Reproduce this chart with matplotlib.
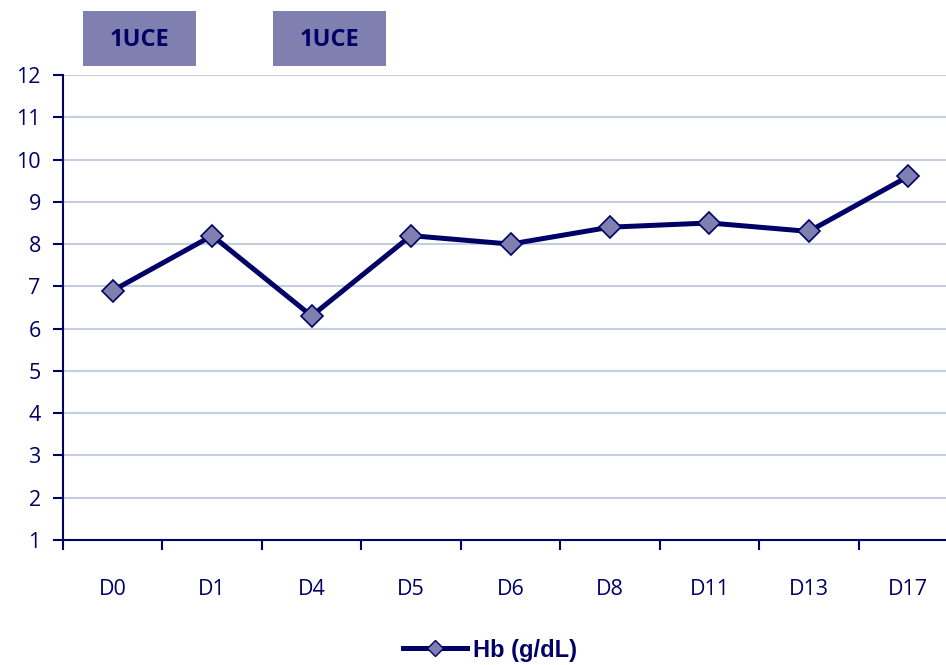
import matplotlib.pyplot as plt
from matplotlib.lines import Line2D

days = ['D0', 'D1', 'D4', 'D5', 'D6', 'D8', 'D11', 'D13', 'D17']
hb = [6.9, 8.2, 6.3, 8.2, 8.0, 8.4, 8.5, 8.3, 9.6]
transfusion_labels = ['1UCE', '1UCE']

navy = '#000066'
lilac = '#8080B0'

fig = plt.figure(figsize=(9.46, 6.65), dpi=100)
ax = fig.add_axes([63 / 946, 125 / 665, 895 / 946, 465 / 665])

x = list(range(len(days)))
ax.plot(x, hb, color=navy, lw=3.6, marker='D', ms=11, mfc=lilac, mec=navy, mew=1.2, zorder=3)

ax.set_ylim(1, 12)
ax.set_yticks(range(1, 13))
ax.set_xlim(-0.5, 8.5)
ax.set_xticks(x)
ax.set_xticklabels(days)
ax.set_xticks([i - 0.5 for i in range(len(days) + 1)], minor=True)

for y in range(2, 13):
    ax.axhline(y, color='#C3CFDF', lw=1.5, zorder=1)

for s in ['top', 'right']:
    ax.spines[s].set_visible(False)
for s in ['left', 'bottom']:
    ax.spines[s].set_color(navy)
    ax.spines[s].set_linewidth(1.5)

ax.tick_params(axis='y', colors=navy, length=7, width=1.5, labelsize=15.5, pad=9)
ax.tick_params(axis='x', which='major', length=0, colors=navy, labelsize=15.5, pad=28)
ax.tick_params(axis='x', which='minor', length=7, width=1.5, color=navy)
for lab in ax.get_xticklabels() + ax.get_yticklabels():
    lab.set_fontfamily('Open Sans')

# transfusion boxes above the plot
for i, xpos in enumerate([83, 273]):
    fig.patches.append(plt.Rectangle((xpos / 946, 1 - 66 / 665), 113 / 946, 55 / 665,
                                     transform=fig.transFigure, facecolor=lilac, edgecolor='none'))
    fig.text((xpos + 56.5) / 946, 1 - 40 / 665, transfusion_labels[i], ha='center', va='center',
             fontsize=17, fontweight='bold', color=navy, family='Open Sans')

handle = Line2D([], [], color=navy, lw=3.6, marker='D', ms=8, mfc=lilac, mec=navy, mew=1.0)
fig.legend([handle], ['Hb (g/dL)'], loc='center', bbox_to_anchor=(0.518, 1 - 650 / 665),
           frameon=False, handlelength=2.7, handletextpad=0.25,
           prop={'family': 'Liberation Sans', 'weight': 'bold', 'size': 17})
for t in fig.legends[0].get_texts():
    t.set_color(navy)

fig.savefig('out.png', dpi=100)
